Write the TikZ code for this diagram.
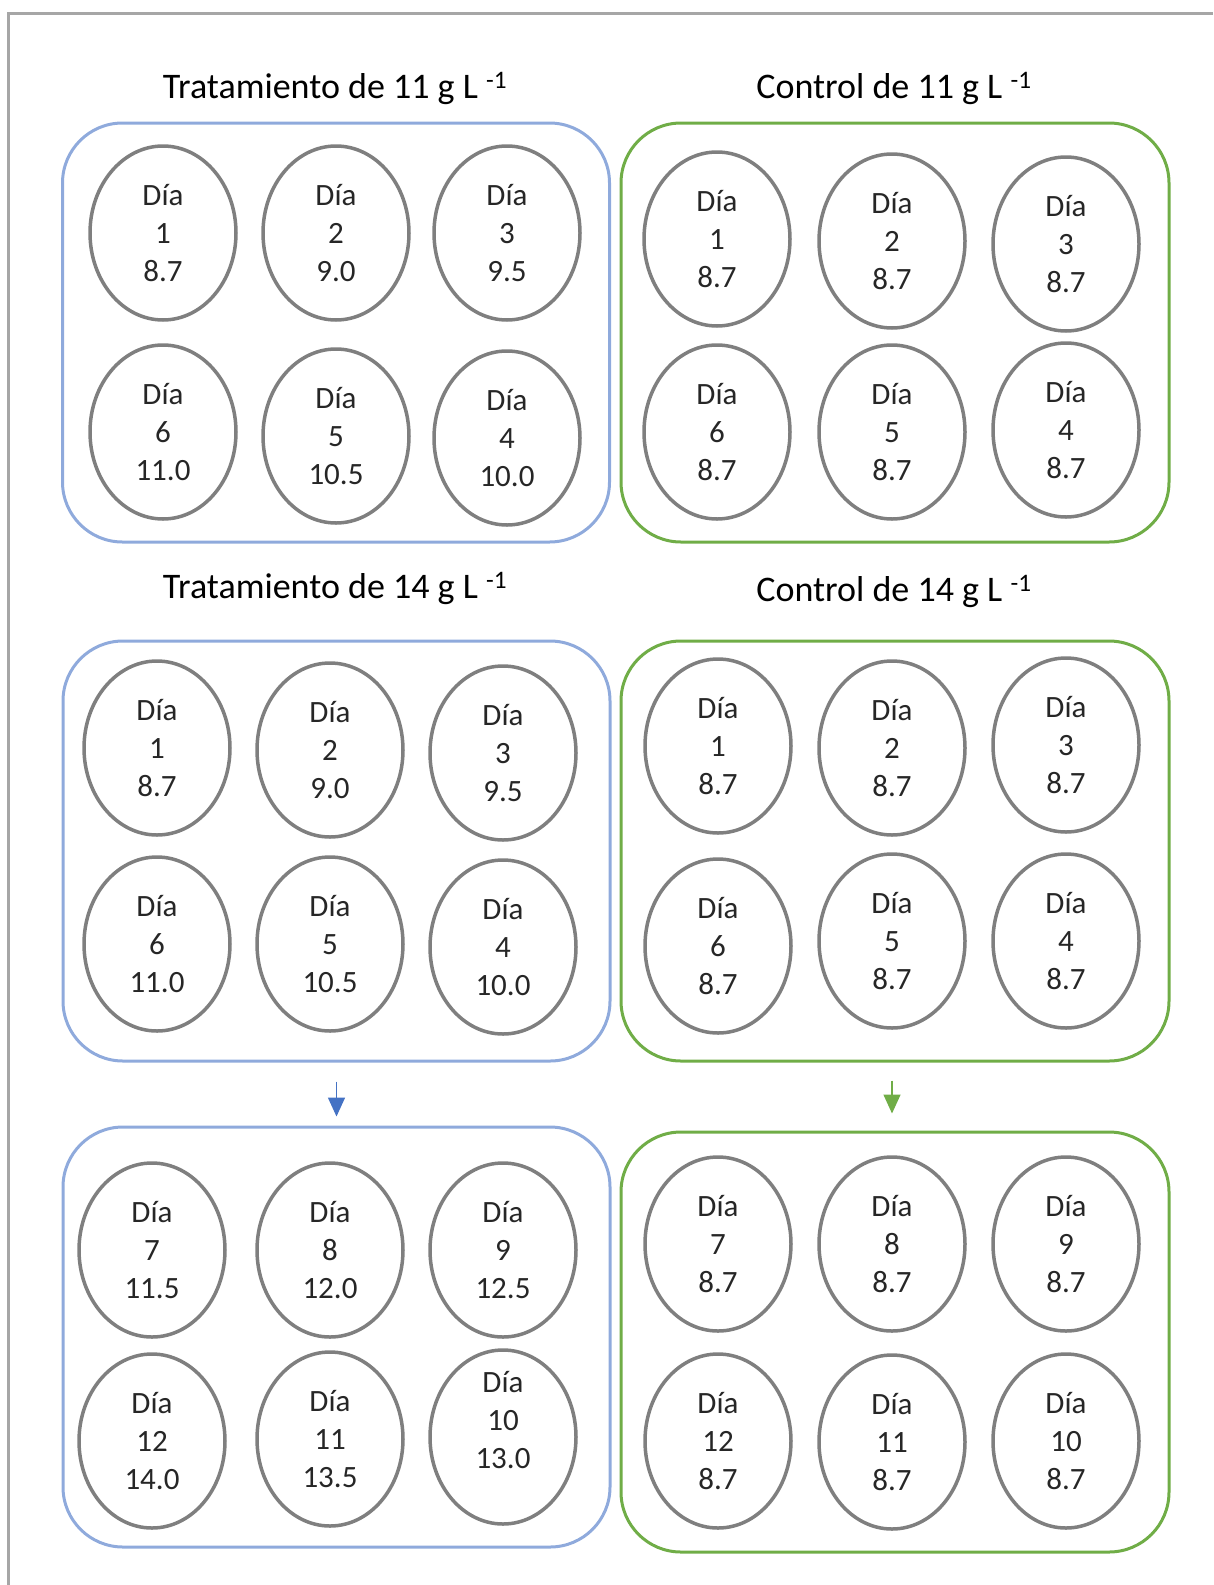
\documentclass[tikz,border=0pt]{standalone}
\usepackage{fontspec}
\setmainfont{Carlito}
\usetikzlibrary{arrows.meta,shapes.geometric}
\definecolor{frameg}{HTML}{A6A6A6}
\definecolor{boxblue}{HTML}{8FAADC}
\definecolor{boxgreen}{HTML}{70AD47}
\definecolor{ellg}{HTML}{7F7F7F}
\definecolor{arrblue}{HTML}{4472C4}
\definecolor{txt}{HTML}{262626}
\newcommand\daycell[6]{%
  \node[dayell] (#1) at (#2,#3) {};
  \node[daytxt, yshift=#6] (#1t) at (#1) {Día\\#4\\#5};
}
\begin{document}
\begin{tikzpicture}[x=1pt,y=-1pt,
  grp/.style={draw, line width=3pt, rounded corners=60pt, inner sep=0pt, minimum width=547pt, minimum height=419pt},
  bluegrp/.style={grp, draw=boxblue},
  greengrp/.style={grp, draw=boxgreen},
  dayell/.style={ellipse, draw=ellg, line width=3.5pt, minimum width=146pt, minimum height=174pt, inner sep=0pt},
  daytxt/.style={align=center, text=txt, inner sep=0pt, font=\fontsize{31}{38.4}\selectfont},
  ttl/.style={anchor=base, text=black, inner sep=0pt, font=\fontsize{36}{40}\selectfont},
  arr/.style={line width=1.5pt, -{Triangle[length=19pt,width=17pt]}}
]
\useasboundingbox (0,0) rectangle (1213,1585);
% frame
\draw[frameg, line width=3pt] (8,1585) -- (8,13) -- (1213,13);

% titles
\node[ttl] (t1) at (335,98) {Tratamiento de 11 g L \textsuperscript{-1}};
\node[ttl] (t2) at (894,98) {Control de 11 g L \textsuperscript{-1}};
\node[ttl] (t3) at (335,598) {Tratamiento de 14 g L \textsuperscript{-1}};
\node[ttl] (t4) at (894,601) {Control de 14 g L \textsuperscript{-1}};

% group boxes
\node[bluegrp] (TL) at (336,332.5) {};
\node[greengrp, minimum width=548pt] (TR) at (895,332.5) {};
\node[bluegrp, minimum height=420pt] (ML) at (336.5,851) {};
\node[greengrp, minimum width=548pt, minimum height=420pt] (MR) at (895,851) {};
\node[bluegrp, minimum height=420pt] (BL) at (336.5,1337) {};
\node[greengrp, minimum width=548pt, minimum height=420pt] (BR) at (895,1342) {};

% TL
\daycell{a1}{163}{233}{1}{8.7}{0pt}
\daycell{a2}{336}{233}{2}{9.0}{0pt}
\daycell{a3}{507}{233}{3}{9.5}{0pt}
\daycell{a6}{163}{432}{6}{11.0}{0pt}
\daycell{a5}{336}{436}{5}{10.5}{0pt}
\daycell{a4}{507}{438}{4}{10.0}{0pt}
% TR
\daycell{b1}{717}{239}{1}{8.7}{0pt}
\daycell{b2}{892}{241}{2}{8.7}{0pt}
\daycell{b3}{1066}{244}{3}{8.7}{0pt}
\daycell{b6}{717}{432}{6}{8.7}{0pt}
\daycell{b5}{892}{432}{5}{8.7}{0pt}
\daycell{b4}{1066}{430}{4}{8.7}{0pt}
% ML
\daycell{c1}{157}{748}{1}{8.7}{0pt}
\daycell{c2}{330}{750}{2}{9.0}{0pt}
\daycell{c3}{503}{753}{3}{9.5}{0pt}
\daycell{c6}{157}{944}{6}{11.0}{0pt}
\daycell{c5}{330}{944}{5}{10.5}{0pt}
\daycell{c4}{503}{947}{4}{10.0}{0pt}
% MR
\daycell{d1}{718}{746}{1}{8.7}{0pt}
\daycell{d2}{892}{748}{2}{8.7}{0pt}
\daycell{d3}{1066}{745}{3}{8.7}{0pt}
\daycell{d6}{718}{946}{6}{8.7}{0pt}
\daycell{d5}{892}{941}{5}{8.7}{0pt}
\daycell{d4}{1066}{941}{4}{8.7}{0pt}
% BL
\daycell{e7}{152}{1250}{7}{11.5}{0pt}
\daycell{e8}{330}{1250}{8}{12.0}{0pt}
\daycell{e9}{503}{1250}{9}{12.5}{0pt}
\daycell{e12}{152}{1441}{12}{14.0}{0pt}
\daycell{e11}{330}{1439}{11}{13.5}{0pt}
\daycell{e10}{503}{1437}{10}{13.0}{17pt}
% BR
\daycell{f7}{718}{1244}{7}{8.7}{0pt}
\daycell{f8}{892}{1244}{8}{8.7}{0pt}
\daycell{f9}{1066}{1244}{9}{8.7}{0pt}
\daycell{f12}{718}{1441}{12}{8.7}{0pt}
\daycell{f11}{892}{1442}{11}{8.7}{0pt}
\daycell{f10}{1066}{1441}{10}{8.7}{0pt}

% arrows
\draw[arr, arrblue, shorten <=19pt, shorten >=9pt] (ML.south) -- (BL.north);
\coordinate (gs) at ([xshift=-3pt]MR.south);
\draw[arr, boxgreen, shorten <=18pt, shorten >=17pt] (gs) -- (gs |- BR.north);
\end{tikzpicture}
\end{document}
